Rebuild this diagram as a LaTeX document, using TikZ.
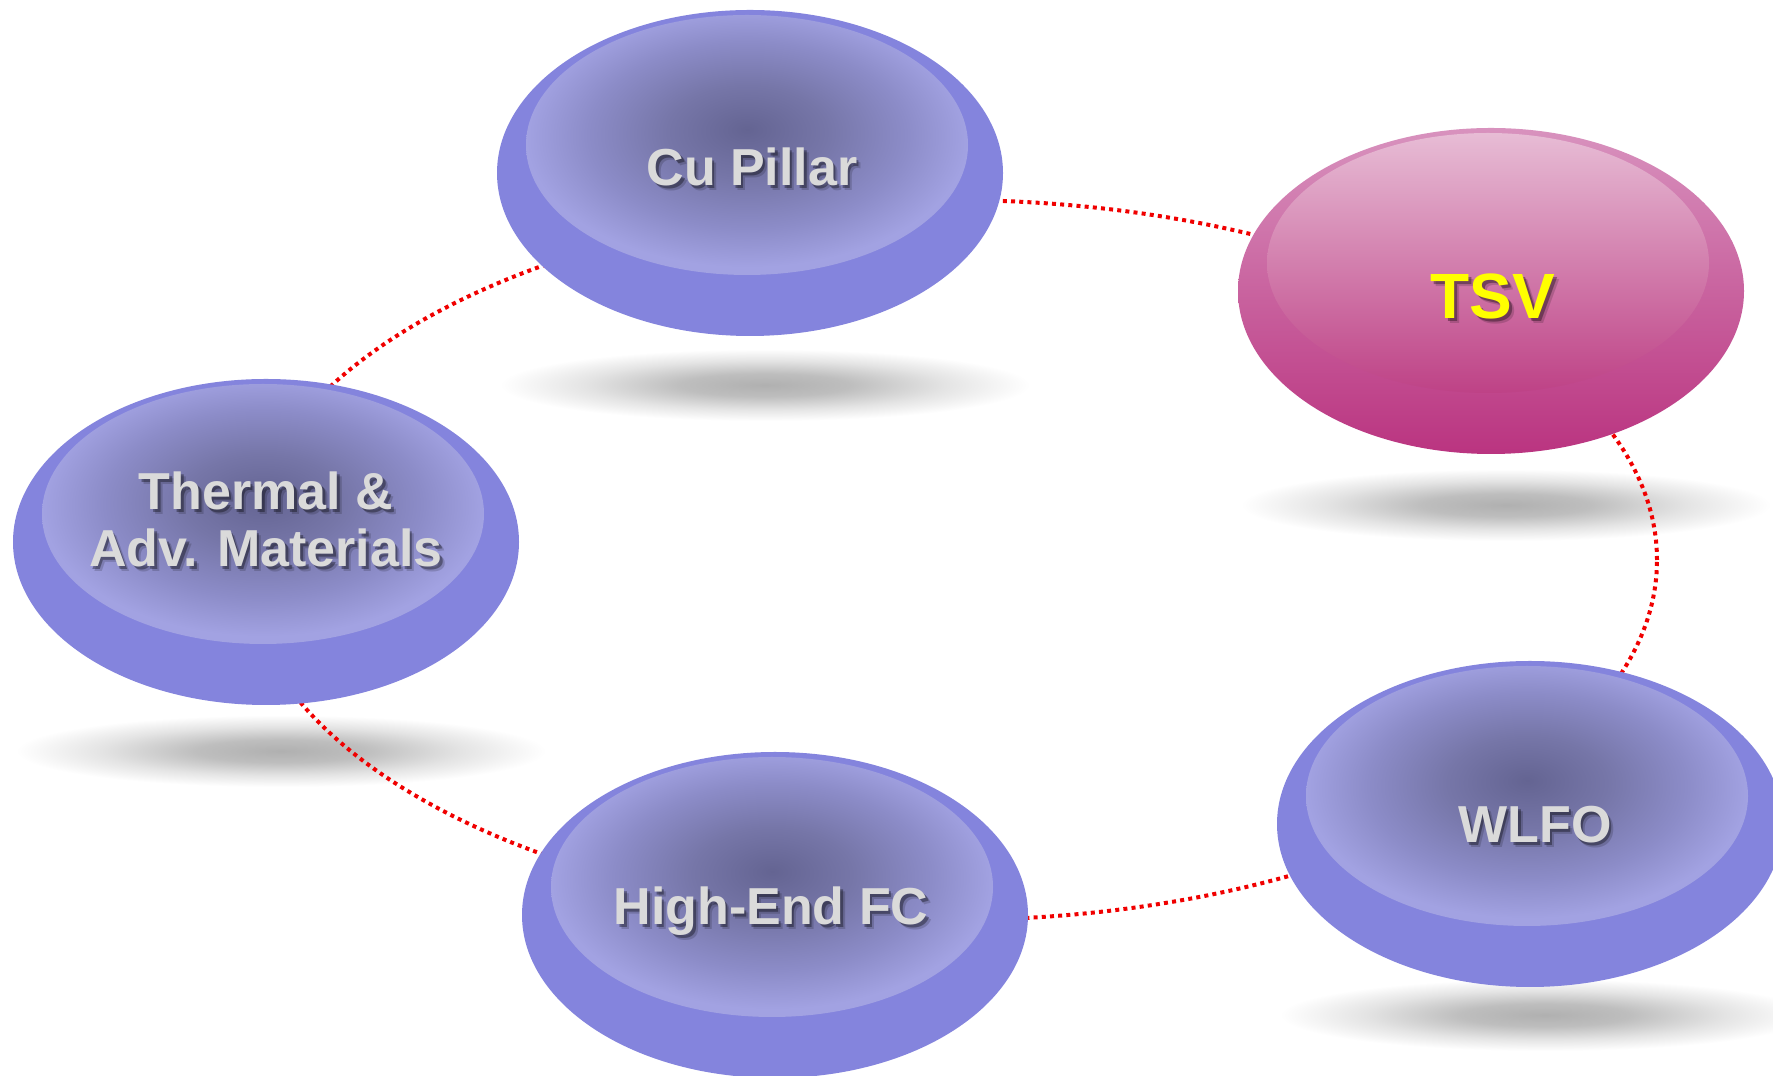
\documentclass[tikz,border=0pt]{standalone}
\usepackage{fontspec}
\setmainfont{Liberation Sans}
\usetikzlibrary{shapes.geometric}

% palette
\definecolor{orbBlue}{RGB}{132,132,221}
\definecolor{dishA}{RGB}{100,100,146}
\definecolor{dishB}{RGB}{118,118,168}
\definecolor{dishC}{RGB}{140,140,200}
\definecolor{dishD}{RGB}{162,162,226}
\definecolor{tsvTop}{RGB}{216,146,190}
\definecolor{tsvBot}{RGB}{186,52,128}
\definecolor{tsvInTop}{RGB}{231,188,213}
\definecolor{tsvInBot}{RGB}{190,66,134}
\definecolor{shA}{RGB}{176,176,176}
\definecolor{shB}{RGB}{190,190,190}
\definecolor{shC}{RGB}{228,228,228}
\definecolor{ringRed}{RGB}{240,0,0}
\definecolor{lblGray}{RGB}{218,218,218}
\definecolor{lblYellow}{RGB}{255,255,0}

% darker hollow of the blue discs
\pgfdeclareradialshading{dish}{\pgfpoint{0bp}{3bp}}{%
  color(0bp)=(dishA); color(9bp)=(dishB); color(18bp)=(dishC);
  color(25bp)=(dishD); color(50bp)=(dishD)}
% soft cast shadow on the floor
\pgfdeclareradialshading{floorshadow}{\pgfpoint{0bp}{0bp}}{%
  color(0bp)=(shA); color(8bp)=(shB); color(17bp)=(shC);
  color(25bp)=(white); color(50bp)=(white)}

\tikzset{
  orb/.style={ellipse, minimum width=506pt, minimum height=326pt,
    inner sep=0pt, draw=none},
  blueorb/.style={orb, fill=orbBlue},
  pinkorb/.style={orb, top color=tsvTop, bottom color=tsvBot},
  bluedish/.style={shading=dish},
  pinkdish/.style={top color=tsvInTop, bottom color=tsvInBot},
  floor/.style={shading=floorshadow},
  ringline/.style={draw=ringRed, line width=4pt,
    dash pattern=on 4pt off 4.2pt},
  lbl/.style={inner sep=0pt, anchor=base, align=center,
    font=\fontsize{52}{57}\selectfont\bfseries, text=lblGray},
  biglbl/.style={lbl, font=\fontsize{64}{70}\selectfont\bfseries,
    text=lblYellow}
}

% disc: name, x, y, outer style, inner style
\newcommand{\orbdisc}[5]{%
  \node[#4] (#1) at (#2,#3) {};
  \shade[#5] ([shift={(-3,28)}]#1.center)
    ellipse [x radius=221, y radius=130];
}
% label with a soft drop shadow: name, x, y, style, text
\newcommand{\orblabel}[5]{%
  \node[#4, text=black, opacity=0.16] (#1-haze) at (#2+4.5,#3-4.5) {#5};
  \node[#4, text=black, opacity=0.34] (#1-shade) at (#2+2.5,#3-2.5) {#5};
  \node[#4] (#1) at (#2,#3) {#5};
}

\begin{document}
\begin{tikzpicture}[x=1pt, y=1pt]
  \fill[white] (0,0) rectangle (1773,1076);
  \useasboundingbox (0,0) rectangle (1773,1076);

  % floor shadows
  \shade[floor] (765,691) ellipse [x radius=265, y radius=36];
  \shade[floor] (1506,571) ellipse [x radius=265, y radius=36];
  \shade[floor] (281,325) ellipse [x radius=265, y radius=36];
  \shade[floor] (790,-49) ellipse [x radius=265, y radius=36];
  \shade[floor] (1545,61) ellipse [x radius=265, y radius=36];

  % dotted orbit linking the discs
  \coordinate (ring) at (950,516);
  \draw[ringline] (ring) ellipse [x radius=707, y radius=360];

  % discs
  \orbdisc{cu}{750}{903}{blueorb}{bluedish}
  \orbdisc{tsv}{1491}{785}{pinkorb}{pinkdish}
  \orbdisc{thermal}{266}{534}{blueorb}{bluedish}
  \orbdisc{hefc}{775}{161}{blueorb}{bluedish}
  \orbdisc{wlfo}{1530}{252}{blueorb}{bluedish}

  % labels (a two-line label sits on the baseline of its last line)
  \orblabel{cu-text}{752}{890}{lbl}{Cu Pillar}
  \orblabel{tsv-text}{1493}{757}{biglbl}{TSV}
  \orblabel{thermal-text}{266}{509}{lbl}{Thermal \&\\Adv. Materials}
  \orblabel{hefc-text}{771}{151}{lbl}{High-End FC}
  \orblabel{wlfo-text}{1535}{233}{lbl}{WLFO}
\end{tikzpicture}
\end{document}
